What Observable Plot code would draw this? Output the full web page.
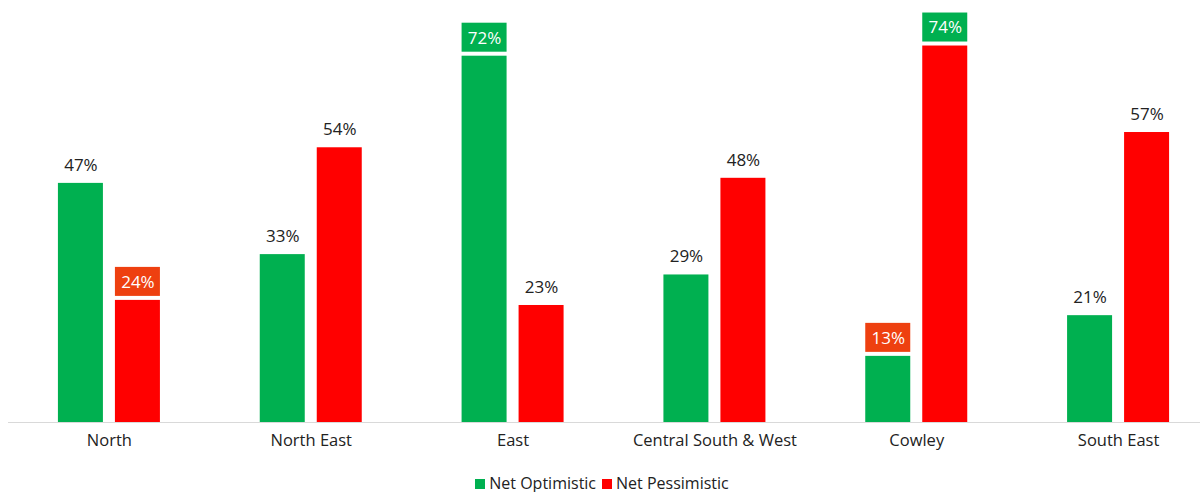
<!DOCTYPE html>
<html>
<head>
<meta charset="utf-8">
<script src="https://cdn.jsdelivr.net/npm/d3@7"></script>
<script src="https://cdn.jsdelivr.net/npm/@observablehq/plot@0.6"></script>
<style>
  body { margin: 0; background: #fff; font-family: "Open Sans", sans-serif; }
  #legend { height: 34px; line-height: 34px; text-align: center; font-size: 16px; color: #222; }
  #legend span.sw { display: inline-block; width: 10px; height: 10px; margin-right: 4px; vertical-align: 0px; }
  #legend span.item { margin: 0 3px; }
</style>
</head>
<body>
<div id="chart"></div>
<div id="legend"></div>
<script>
const categories = ["North", "North East", "East", "Central South & West", "Cowley", "South East"];
const seriesNames = ["Net Optimistic", "Net Pessimistic"];
const seriesColors = ["#00B050", "#FF0000"];
const optimistic = [47, 33, 72, 29, 13, 21];
const pessimistic = [24, 54, 23, 48, 74, 57];
// label highlight: "max" (green box), "min" (orange box), "" (plain)
const optimisticHighlight = ["", "", "max", "", "min", ""];
const pessimisticHighlight = ["min", "", "", "", "max", ""];

const boxColors = {max: "#00B050", min: "#EE4010"};

const rows = [];
categories.forEach((c, i) => {
  rows.push({category: c, series: seriesNames[0], value: optimistic[i], hl: optimisticHighlight[i]});
  rows.push({category: c, series: seriesNames[1], value: pessimistic[i], hl: pessimisticHighlight[i]});
});

const offset = {[seriesNames[0]]: -28.5, [seriesNames[1]]: 28.5};
const step = (1219 - 8) / categories.length;
const inset = (step - 45) / 2;

const marks = [];
seriesNames.forEach((s, si) => {
  const d = rows.filter(r => r.series === s);
  marks.push(Plot.barY(d, {x: "category", y: "value", fill: seriesColors[si], dx: offset[s], insetLeft: inset, insetRight: inset}));
  const boxed = d.filter(r => r.hl);
  marks.push(Plot.barY(boxed, {x: "category", y1: "value", y2: "value", fill: r => boxColors[r.hl], dx: offset[s], insetLeft: inset, insetRight: inset, insetTop: -33, insetBottom: 4}));
  marks.push(Plot.text(d, {x: "category", y: "value", text: r => r.value + "%", dx: offset[s], dy: -18, fill: r => r.hl ? "#fff" : "#222", fontSize: 17}));
});

const chart = Plot.plot({
  width: 1204,
  height: 466,
  marginLeft: 8,
  marginRight: 4,
  marginTop: 15,
  marginBottom: 44,
  style: {fontFamily: "Open Sans, sans-serif", fontSize: "16.5px", color: "#222", background: "#fff"},
  x: {domain: categories, range: [8, 1219], padding: 0, round: false, label: null, tickSize: 0, tickPadding: 12},
  y: {domain: [0, 80], axis: null},
  marks: [
    ...marks,
    Plot.ruleY([0], {stroke: "#d9d9d9", strokeWidth: 1})
  ]
});
document.getElementById("chart").appendChild(chart);

const legend = document.getElementById("legend");
legend.innerHTML = seriesNames.map((s, i) =>
  `<span class="item"><span class="sw" style="background:${seriesColors[i]}"></span>${s}</span>`).join("");
</script>
</body>
</html>
